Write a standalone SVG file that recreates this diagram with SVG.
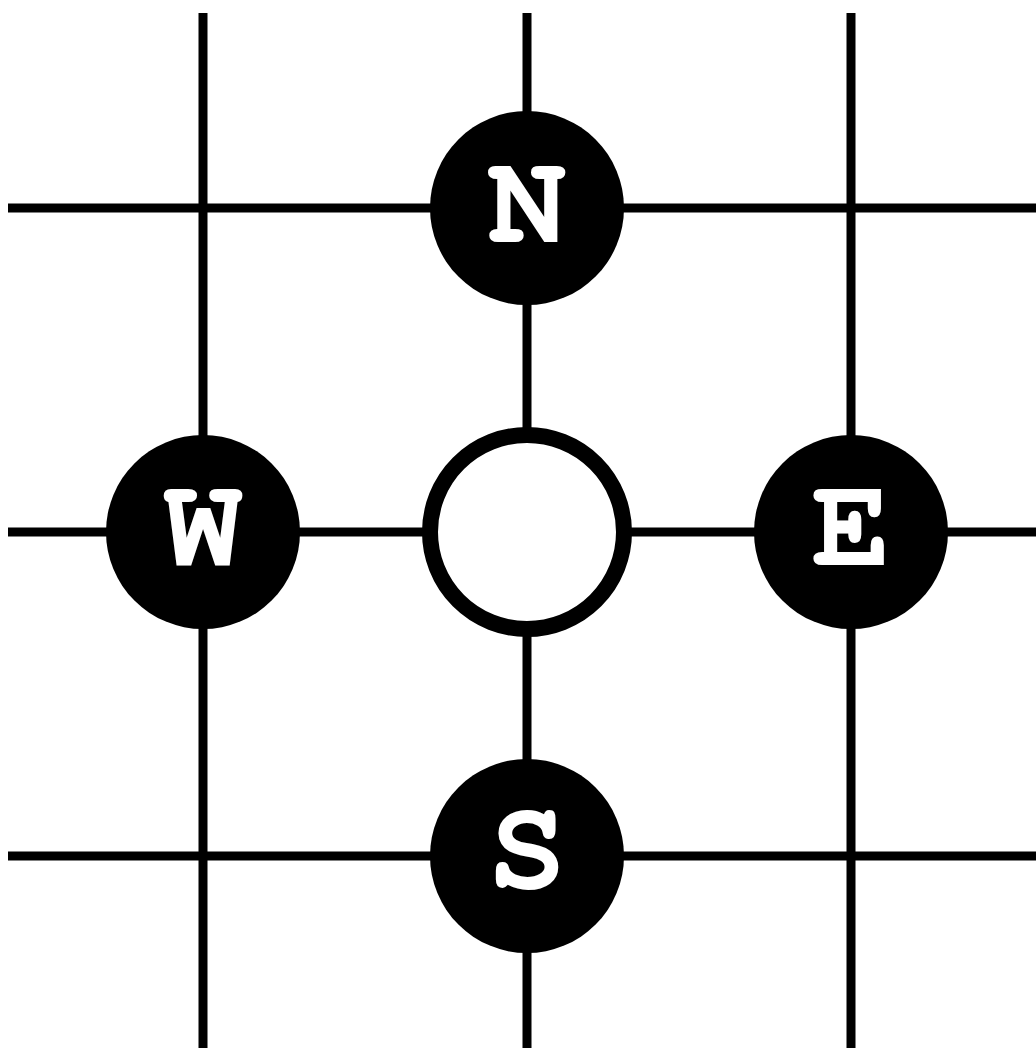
<svg xmlns="http://www.w3.org/2000/svg" width="1036" height="1048" viewBox="0 0 1036 1048">
<style>
.ln{stroke:#000;stroke-width:9;fill:none}
.dot{fill:#000}
.ctr{fill:#fff;stroke:#000;stroke-width:16}
.lbl{fill:#fff;font-family:FreeMono,"Liberation Mono",monospace;font-weight:bold;font-size:131px;text-anchor:middle}
</style>
<rect width="1036" height="1048" fill="#fff"/>
<g id="connectors">
<line class="ln" x1="203" y1="13" x2="203" y2="1048"/>
<line class="ln" x1="527" y1="13" x2="527" y2="1048"/>
<line class="ln" x1="851" y1="13" x2="851" y2="1048"/>
<line class="ln" x1="8" y1="208" x2="1036" y2="208"/>
<line class="ln" x1="8" y1="532" x2="1036" y2="532"/>
<line class="ln" x1="8" y1="856" x2="1036" y2="856"/>
</g>
<g id="node-N"><circle class="dot" cx="527" cy="208" r="97"/><text class="lbl" x="527" y="242">N</text></g>
<g id="node-W"><circle class="dot" cx="203" cy="532" r="97"/><text class="lbl" x="203" y="565">W</text></g>
<g id="node-center"><circle class="ctr" cx="527" cy="532" r="97"/></g>
<g id="node-E"><circle class="dot" cx="851" cy="532" r="97"/><text class="lbl" x="851" y="565">E</text></g>
<g id="node-S"><circle class="dot" cx="527" cy="856" r="97"/><text class="lbl" x="527" y="888">S</text></g>
</svg>
